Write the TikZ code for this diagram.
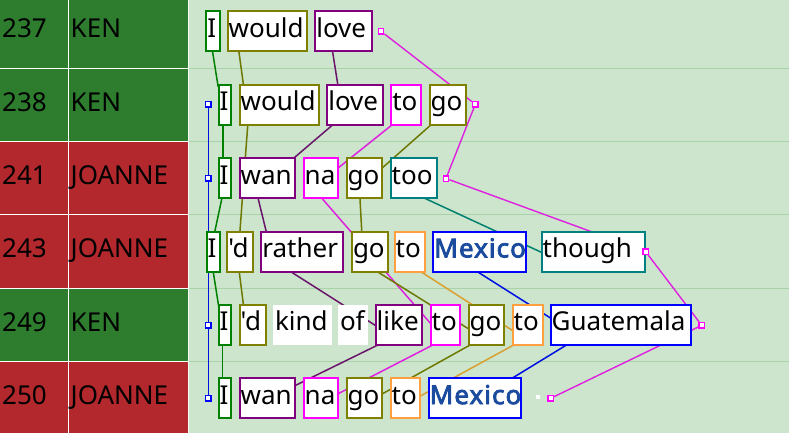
\documentclass[tikz,border=0pt]{standalone}
\usepackage{fontspec}
\setmainfont{Noto Sans}[Ligatures=TeXOff]
\newfontfamily\mexfont{Noto Sans}[FakeBold=3, LetterSpace=4, Ligatures=TeXOff]
\pgfdeclarelayer{bg}
\pgfdeclarelayer{links}
\pgfsetlayers{bg,links,main}
\definecolor{cgreen}{HTML}{008000}
\definecolor{colive}{HTML}{808000}
\definecolor{cpurple}{HTML}{800080}
\definecolor{cmag}{HTML}{FF00FF}
\definecolor{cteal}{HTML}{008080}
\definecolor{corange}{HTML}{FFA040}
\definecolor{cblue}{HTML}{0000FF}
\definecolor{cmex}{HTML}{1A4B9E}
\definecolor{lgreen}{HTML}{008000}
\definecolor{lolive}{HTML}{6E7800}
\definecolor{lpurple}{HTML}{6A156A}
\definecolor{lmag}{HTML}{E020E0}
\definecolor{lteal}{HTML}{00806E}
\definecolor{lorange}{HTML}{D9A030}
\definecolor{lblue}{HTML}{0010E0}
\definecolor{kgreen}{HTML}{2E7D2E}
\definecolor{kred}{HTML}{B2282C}
\definecolor{bgg}{HTML}{CCE5CC}
\definecolor{rowl}{HTML}{A8D3A8}
\newcommand\wfont{\fontsize{26}{30}\selectfont}
\newcommand\wtx[2]{\makebox[#1pt][l]{\hspace{1pt}#2}}
\newcommand\mex{{\mexfont\color{cmex}Mexico}}
\tikzset{
  wb/.style={draw=#1, fill=white, line width=2pt, minimum height=40pt,
    inner xsep=0pt, inner ysep=0pt, text height=20pt, text depth=8.4pt, font=\wfont},
  plain/.style={fill=white, minimum height=40pt, inner xsep=0pt, inner ysep=0pt,
    text height=20pt, text depth=8.4pt, font=\wfont},
  conn/.style={line width=1.5pt, shorten <=-3pt, shorten >=-3pt},
  sqm/.style={draw=cmag, fill=white, line width=1.4pt, minimum size=5.4pt, inner sep=0pt},
  sqb/.style={draw=cblue, fill=white, line width=1.4pt, minimum size=5.4pt, inner sep=0pt},
  lab/.style={anchor=base west, inner sep=0pt, font=\wfont}
}
\begin{document}
\begin{tikzpicture}[x=1pt,y=-1pt]
\useasboundingbox (0,0) rectangle (789,433);
% ---------- background ----------
\begin{pgfonlayer}{bg}
\fill[white] (0,0) rectangle (189,433);
\fill[bgg] (189,0) rectangle (789,433);
\foreach \yy in {68.2,141.5,214.9,288.2,361.6}
  \draw[rowl, line width=1pt] (189,\yy) -- (789,\yy);
\foreach \yc/\cc in {31.5/kgreen,104.9/kgreen,178.2/kred,251.6/kred,324.9/kgreen,398.3/kred}{
  \fill[\cc] (0,\yc-36.2) rectangle (67.8,\yc+36.2);
  \fill[\cc] (68.8,\yc-36.2) rectangle (188,\yc+36.2);
}
\draw[white!80!bgg, line width=1pt] (188.6,0) -- (188.6,433);
\end{pgfonlayer}
% ---------- left labels ----------
\node[lab] (id1) at (2,37.7) {237};
\node[lab] (id2) at (2,111.1) {238};
\node[lab] (id3) at (2,184.4) {241};
\node[lab] (id4) at (2,257.8) {243};
\node[lab] (id5) at (2,331.1) {249};
\node[lab] (id6) at (2,404.5) {250};
\node[lab] (sp1) at (70.5,37.7) {KEN};
\node[lab] (sp2) at (70.5,111.1) {KEN};
\node[lab] (sp3) at (70.5,184.4) {JOANNE};
\node[lab] (sp4) at (70.5,257.8) {JOANNE};
\node[lab] (sp5) at (70.5,331.1) {KEN};
\node[lab] (sp6) at (70.5,404.5) {JOANNE};
% ---------- row 1 ----------
\node[wb=cgreen]  (I1) at (213,31.5) {\wtx{13.4}{I}};
\node[wb=colive]  (would1) at (267.5,31.5) {\wtx{79.6}{would}};
\node[wb=cpurple] (love1) at (343.5,31.5) {\wtx{56.4}{love}};
% ---------- row 2 ----------
\node[wb=cgreen]  (I2) at (225,104.9) {\wtx{12.6}{I}};
\node[wb=colive]  (would2) at (279.35,104.9) {\wtx{79.3}{would}};
\node[wb=cpurple] (love2) at (355.3,104.9) {\wtx{56}{love}};
\node[wb=cmag]    (to2) at (406.3,104.9) {\wtx{30}{to}};
\node[wb=colive]  (go2) at (447.7,104.9) {\wtx{36}{go}};
% ---------- row 3 ----------
\node[wb=cgreen]  (I3) at (225,178.2) {\wtx{12.6}{I}};
\node[wb=cpurple] (wan3) at (267.5,178.2) {\wtx{55.6}{wan}};
\node[wb=cmag]    (na3) at (320.85,178.2) {\wtx{34.3}{na}};
\node[wb=colive]  (go3) at (364.5,178.2) {\wtx{35.6}{go}};
\node[wb=cteal]   (too3) at (413.7,178.2) {\wtx{46}{too}};
% ---------- row 4 ----------
\node[wb=cgreen]  (I4) at (213.2,251.6) {\wtx{13}{I}};
\node[wb=colive]  (d4) at (240.15,251.6) {\wtx{25.7}{'d}};
\node[wb=cpurple] (rather4) at (302.3,251.6) {\wtx{82}{rather}};
\node[wb=colive]  (go4) at (369.85,251.6) {\wtx{35.7}{go}};
\node[wb=corange] (to4) at (410,251.6) {\wtx{30.6}{to}};
\node[wb=cblue]   (mex4) at (479.8,251.6) {\wtx{93}{\mex}};
\node[wb=cteal]   (though4) at (593.5,251.6) {\wtx{103.6}{though}};
% ---------- row 5 ----------
\node[wb=cgreen]  (I5) at (225,324.9) {\wtx{12.6}{I}};
\node[wb=colive]  (d5) at (252.7,324.9) {\wtx{26}{'d}};
\node[plain]      (kind5) at (302.35,324.9) {\wtx{58.7}{\hspace{1pt}kind}};
\node[plain]      (of5) at (353.15,324.9) {\wtx{30.3}{\hspace{1pt}of}};
\node[wb=cpurple] (like5) at (399,324.9) {\wtx{46.6}{like}};
\node[wb=cmag]    (to5) at (445.5,324.9) {\wtx{29.6}{to}};
\node[wb=colive]  (go5) at (486.5,324.9) {\wtx{35.6}{go}};
\node[wb=corange] (tob5) at (527.7,324.9) {\wtx{30}{to}};
\node[wb=cblue]   (guat5) at (621,324.9) {\wtx{140.6}{Guatemala}};
% ---------- row 6 ----------
\node[wb=cgreen]  (I6) at (225,398.3) {\wtx{12.6}{I}};
\node[wb=cpurple] (wan6) at (267.5,398.3) {\wtx{55.6}{wan}};
\node[wb=cmag]    (na6) at (320.85,398.3) {\wtx{34.3}{na}};
\node[wb=colive]  (go6) at (364.5,398.3) {\wtx{35.6}{go}};
\node[wb=corange] (to6) at (405.5,398.3) {\wtx{29.6}{to}};
\node[wb=cblue]   (mex6) at (475,398.3) {\wtx{92.6}{\mex}};
\node[fill=white, minimum size=4pt, inner sep=0pt] (wsq) at (538.3,397.3) {};
% ---------- squares ----------
\node[sqm] (sq1) at (381,31.3) {};
\node[sqm] (sq2) at (475.3,104.3) {};
\node[sqm] (sq3) at (446,178.5) {};
\node[sqm] (sq4) at (645.5,251.5) {};
\node[sqm] (sq5) at (701.7,325.3) {};
\node[sqm] (sq6) at (550.7,398.3) {};
\node[sqb] (sb2) at (208.3,104.5) {};
\node[sqb] (sb3) at (208.3,178.3) {};
\node[sqb] (sb5) at (208.3,325.3) {};
\node[sqb] (sb6) at (208.3,398.3) {};
% ---------- connectors ----------
\begin{pgfonlayer}{links}
\draw[lblue, line width=1.5pt] (sb2) -- (sb3) -- (sb5) -- (sb6);
\draw[lmag, line width=1.4pt] (sq1) -- (sq2) -- (sq3) -- (sq4) -- (sq5) -- (sq6);
% green
\draw[conn, lgreen] ([shift={(-0.3,21)}]I1.center) -- ([shift={(-7.3,-21)}]I2.center);
\draw[conn, lgreen] ([shift={(-2,21)}]I2.center) -- ([shift={(-2,-21)}]I3.center);
\draw[conn, lgreen] ([shift={(-3.3,21)}]I3.center) -- ([shift={(1.8,-21)}]I4.center);
\draw[conn, lgreen] ([shift={(0.1,20.7)}]I4.center) -- ([shift={(-6.7,-21)}]I5.center);
\draw[conn, lgreen] ([shift={(-2.3,21)}]I5.center) -- ([shift={(-2.3,-21)}]I6.center);
% olive would
\draw[conn, lolive] ([shift={(-28.5,20.8)}]would1.center) -- ([shift={(-36.05,-21)}]would2.center);
\draw[conn, lolive] ([shift={(-31.65,20.8)}]would2.center) -- ([shift={(-0.15,-21)}]d4.center);
\draw[conn, lolive] ([shift={(-0.85,20.7)}]d4.center) -- ([shift={(-9.4,-21)}]d5.center);
% purple
\draw[conn, lpurple] ([shift={(-10.8,20.8)}]love1.center) -- ([shift={(-17.6,-21)}]love2.center);
\draw[conn, lpurple] ([shift={(-23.6,20.8)}]love2.center) -- ([shift={(27,-20.7)}]wan3.center);
\draw[conn, lpurple] ([shift={(-9.2,21)}]wan3.center) -- ([shift={(-36.3,-21)}]rather4.center);
\draw[conn, lpurple] ([shift={(-10.6,20.7)}]rather4.center) -- ([shift={(-24.3,0.1)}]like5.center);
\draw[conn, lpurple] ([shift={(-23,21)}]like5.center) -- ([shift={(28.8,-13.3)}]wan6.center);
% magenta to/na
\draw[conn, lmag] ([shift={(-15.3,20.8)}]to2.center) -- ([shift={(18.15,-10.9)}]na3.center);
\draw[conn, lmag] ([shift={(1.85,21)}]na3.center) -- ([shift={(-15.8,-2.4)}]to5.center);
\draw[conn, lmag] ([shift={(-14.5,21)}]to5.center) -- ([shift={(18.15,-5)}]na6.center);
% olive go
\draw[conn, lolive] ([shift={(-17.7,20.8)}]go2.center) -- ([shift={(18.8,-11.2)}]go3.center);
\draw[conn, lolive] ([shift={(-4.5,21)}]go3.center) -- ([shift={(-8.15,-21)}]go4.center);
\draw[conn, lolive] ([shift={(8.45,20.7)}]go4.center) -- ([shift={(-18.8,3.4)}]go5.center);
\draw[conn, lolive] ([shift={(-18,21)}]go5.center) -- ([shift={(18.8,-5)}]go6.center);
% teal
\draw[conn, lteal] ([shift={(13,21)}]too3.center) -- ([shift={(-52.8,0.4)}]though4.center);
% orange
\draw[conn, lorange] ([shift={(11.7,20.7)}]to4.center) -- ([shift={(-16,5.1)}]tob5.center);
\draw[conn, lorange] ([shift={(-15.7,21)}]tob5.center) -- ([shift={(15.8,-2.8)}]to6.center);
% blue
\draw[conn, lblue] ([shift={(-1.5,20.7)}]mex4.center) -- ([shift={(-71.3,-7.4)}]guat5.center);
\draw[conn, lblue] ([shift={(-56,21)}]guat5.center) -- ([shift={(38.3,-20.8)}]mex6.center);
\end{pgfonlayer}
\end{tikzpicture}
\end{document}
